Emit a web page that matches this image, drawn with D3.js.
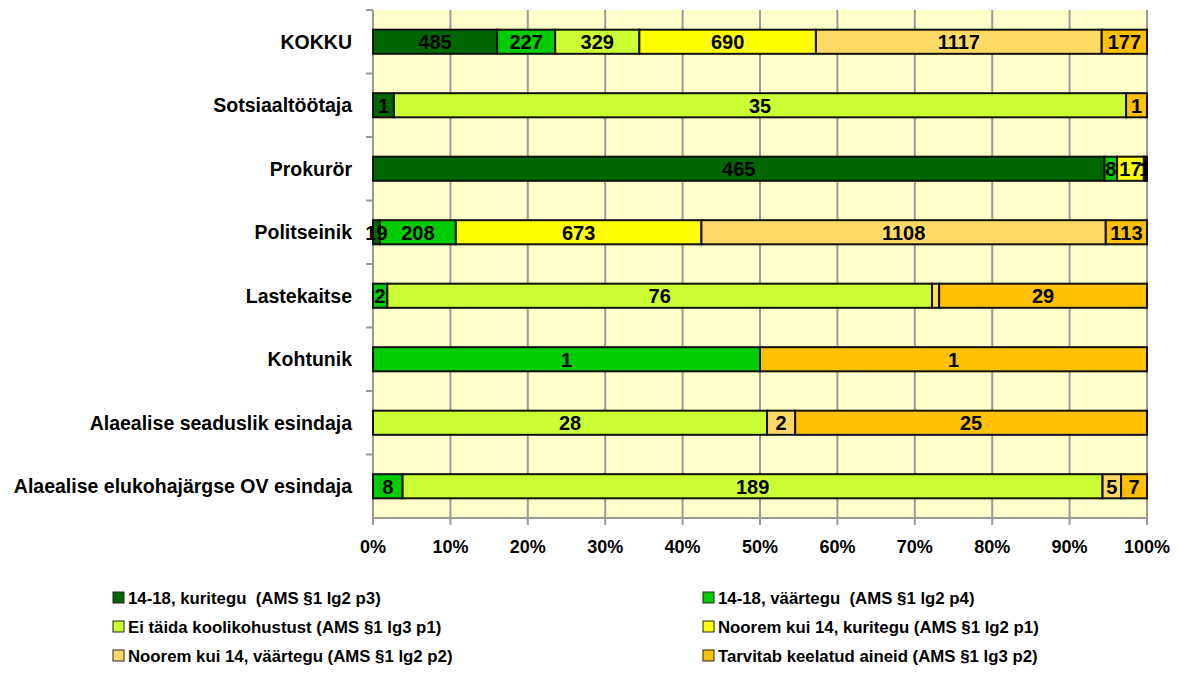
<!DOCTYPE html>
<html>
<head>
<meta charset="utf-8">
<script src="https://cdn.jsdelivr.net/npm/d3@7"></script>
<style>
  body { margin: 0; background: #fff; }
  svg { font-family: "Liberation Sans", Arial, sans-serif; font-weight: bold; }
</style>
</head>
<body>
<script>
var w = 1180; // width of SVG space
var h = 699;  // height of SVG space

// categories, top to bottom
var categories = ["KOKKU", "Sotsiaaltöötaja", "Prokurör", "Politseinik", "Lastekaitse",
  "Kohtunik", "Alaealise seaduslik esindaja", "Alaealise elukohajärgse OV esindaja"];

// series names (legend order)
var seriesNames = ["14-18, kuritegu  (AMS §1 lg2 p3)", "14-18, väärtegu  (AMS §1 lg2 p4)",
  "Ei täida koolikohustust (AMS §1 lg3 p1)", "Noorem kui 14, kuritegu (AMS §1 lg2 p1)",
  "Noorem kui 14, väärtegu (AMS §1 lg2 p2)", "Tarvitab keelatud aineid (AMS §1 lg3 p2)"];
var seriesColors = ["#006600", "#00cc00", "#ccff33", "#ffff00", "#ffd966", "#ffc000"];

// values per series, in category order
var kuritegu1418 = [485, 1, 465, 19, 0, 0, 0, 0];
var vaartegu1418 = [227, 0, 8, 208, 2, 1, 0, 8];
var koolikohustus = [329, 35, 0, 0, 76, 0, 28, 189];
var kuritegu14 = [690, 0, 17, 673, 0, 0, 0, 0];
var vaartegu14 = [1117, 0, 1, 1108, 1, 0, 2, 5];
var keelatudAined = [177, 1, 1, 113, 29, 1, 25, 7];
var seriesValues = [kuritegu1418, vaartegu1418, koolikohustus, kuritegu14, vaartegu14, keelatudAined];

// labels Excel left out
var hiddenLabels = [["Lastekaitse", 4]];

var xTicks = [0, 0.1, 0.2, 0.3, 0.4, 0.5, 0.6, 0.7, 0.8, 0.9, 1];

// plot area edges
var pLeft = 373, pRight = 1147, pTop = 10, pBottom = 518;

var svg = d3.select("body").append("svg").attr("width", w).attr("height", h);

var x = d3.scaleLinear().domain([0, 1]).range([pLeft, pRight]);
var y = d3.scaleBand().domain(categories).range([pTop, pBottom]).paddingInner(0.62).paddingOuter(0.31);
var band = d3.scaleBand().domain(categories).range([pTop, pBottom]); // for the ticks between categories

// plot background
svg.append("rect").attr("x", pLeft).attr("y", pTop).attr("width", pRight - pLeft).attr("height", pBottom - pTop)
  .attr("fill", "#ffffcc");

// vertical grid lines
svg.selectAll("line.grid").data(xTicks.slice(1)).enter().append("line")
  .attr("class", "grid")
  .attr("x1", function (d) { return x(d); }).attr("x2", function (d) { return x(d); })
  .attr("y1", pTop).attr("y2", pBottom)
  .attr("stroke", "#999").attr("stroke-width", 2);

svg.append("clipPath").attr("id", "plotclip").append("rect")
  .attr("x", pLeft - 30).attr("y", pTop).attr("width", pRight - pLeft + 31).attr("height", pBottom - pTop);

// build stacked rows
var rows = categories.map(function (c, i) {
  var total = d3.sum(seriesValues, function (s) { return s[i]; });
  var acc = 0;
  var segs = [];
  seriesValues.forEach(function (s, k) {
    var v = s[i];
    if (v > 0) segs.push({ cat: c, k: k, v: v, x0: acc / total, x1: (acc + v) / total });
    acc += v;
  });
  return segs;
});
var segments = [].concat.apply([], rows);

// category labels first so the "19" value label sits on top
var yAxis = svg.append("g").attr("transform", "translate(" + pLeft + ",0)");
yAxis.selectAll("text").data(categories).enter().append("text")
  .attr("x", -21)
  .attr("y", function (d) { return y(d) + y.bandwidth() / 2; })
  .attr("dy", "0.36em")
  .attr("text-anchor", "end")
  .style("font-size", "19.5px")
  .text(function (d) { return d; });

var g = svg.append("g").attr("clip-path", "url(#plotclip)");

g.selectAll("rect.bar").data(segments).enter().append("rect")
  .attr("class", "bar")
  .attr("x", function (d) { return x(d.x0); })
  .attr("y", function (d) { return y(d.cat); })
  .attr("width", function (d) { return x(d.x1) - x(d.x0); })
  .attr("height", y.bandwidth())
  .attr("fill", function (d) { return seriesColors[d.k]; })
  .attr("stroke", "#111").attr("stroke-width", 2);

g.selectAll("text.val").data(segments.filter(function (d) {
    return !hiddenLabels.some(function (hl) { return hl[0] === d.cat && hl[1] === d.k; });
  })).enter().append("text")
  .attr("class", "val")
  .attr("x", function (d) { return (x(d.x0) + x(d.x1)) / 2; })
  .attr("y", function (d) { return y(d.cat) + y.bandwidth() / 2; })
  .attr("dy", "0.37em")
  .attr("text-anchor", "middle")
  .style("font-family", "'Liberation Sans Narrow', 'Arial Narrow', sans-serif")
  .style("font-size", "20px")
  .attr("fill", "#000")
  .text(function (d) { return d.v; });

// left axis line and ticks
yAxis.append("line").attr("x1", 0).attr("x2", 0).attr("y1", pTop).attr("y2", pBottom)
  .attr("stroke", "#999").attr("stroke-width", 2);
yAxis.selectAll("line.tk").data(categories.slice(1)).enter().append("line")
  .attr("class", "tk")
  .attr("x1", -7).attr("x2", 0)
  .attr("y1", function (d) { return band(d); }).attr("y2", function (d) { return band(d); })
  .attr("stroke", "#999").attr("stroke-width", 2);
yAxis.append("line").attr("x1", -7).attr("x2", 0).attr("y1", pTop).attr("y2", pTop)
  .attr("stroke", "#999").attr("stroke-width", 2);

// bottom axis
var xAxis = svg.append("g");
xAxis.append("line").attr("x1", pLeft).attr("x2", pRight).attr("y1", pBottom).attr("y2", pBottom)
  .attr("stroke", "#999").attr("stroke-width", 2);
xAxis.selectAll("line.tk").data(xTicks).enter().append("line")
  .attr("class", "tk")
  .attr("x1", function (d) { return x(d); }).attr("x2", function (d) { return x(d); })
  .attr("y1", pBottom).attr("y2", pBottom + 7)
  .attr("stroke", "#999").attr("stroke-width", 2);
xAxis.selectAll("text").data(xTicks).enter().append("text")
  .attr("x", function (d) { return x(d); })
  .attr("y", 547).attr("dy", "0.36em")
  .attr("text-anchor", "middle")
  .style("font-size", "18px")
  .text(function (d) { return d3.format(".0%")(d); });

// legend, two columns
var legend = svg.selectAll("g.leg").data(seriesNames).enter().append("g")
  .attr("class", "leg")
  .attr("transform", function (d, i) {
    return "translate(" + (i % 2 === 0 ? 113 : 703) + "," + (598 + Math.floor(i / 2) * 29) + ")";
  });
legend.append("rect").attr("x", 0).attr("y", -6).attr("width", 11).attr("height", 11)
  .attr("fill", function (d, i) { return seriesColors[i]; })
  .attr("stroke", "#222").attr("stroke-width", 1);
legend.append("text").attr("x", 15).attr("y", 0).attr("dy", "0.36em")
  .style("font-size", "16.8px")
  .style("white-space", "pre")
  .text(function (d) { return d; });
</script>
</body>
</html>
